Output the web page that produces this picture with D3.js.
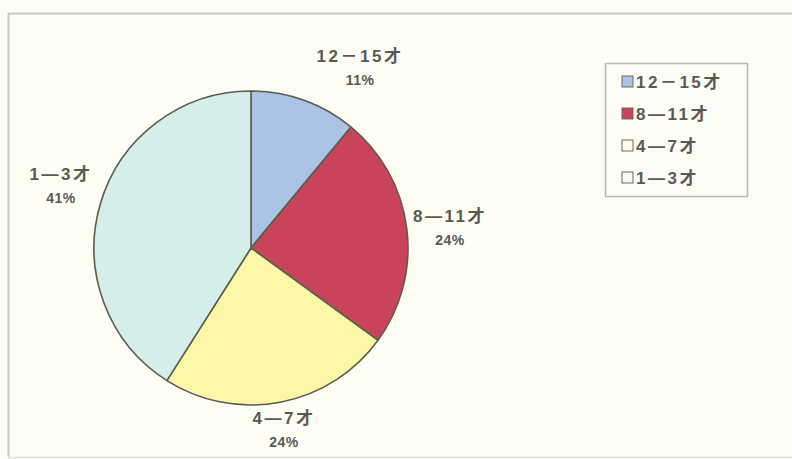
<!DOCTYPE html>
<html>
<head>
<meta charset="utf-8">
<script src="https://cdn.jsdelivr.net/npm/d3@7"></script>
<style>
  html, body { margin: 0; padding: 0; background: #fdfdf4; }
  svg { display: block; }
  text { font-family: "Liberation Sans", "Noto Sans CJK SC", sans-serif; font-weight: bold; fill: #5a5a55; }
</style>
</head>
<body>
<svg id="chart" width="792" height="459"></svg>
<script>
// Age groups and their share of the total (%)
const categories = ["12－15才", "8—11才", "4—7才", "1—3才"];
const legendLabels = ["12－15才", "8—11才", "4—7才", "1—3才"];
const values = [11, 24, 24, 41];
const colors = ["#abc3e4", "#c9435b", "#fbf7a6", "#d6eeea"];
const legendColors = ["#abc3e4", "#c9435b", "#fdfbe6", "#f4faf6"];

const svg = d3.select("#chart");
const W = 792, H = 459;

// outer frame
svg.append("rect").attr("x", 0).attr("y", 0).attr("width", W).attr("height", H).attr("fill", "#fdfdf4");
svg.append("path")
  .attr("d", `M8.5,${H - 2} L8.5,13.5 L${W},13.5`)
  .attr("fill", "none").attr("stroke", "#c9c9c2").attr("stroke-width", 2);
svg.append("line").attr("x1", 8).attr("x2", W).attr("y1", H - 1.5).attr("y2", H - 1.5)
  .attr("stroke", "#e2e2da").attr("stroke-width", 1.5);

const cx = 251, cy = 248, r = 157;
const pie = d3.pie().sort(null).value(d => d)(values);
const arc = d3.arc().innerRadius(0).outerRadius(r);

const g = svg.append("g").attr("transform", `translate(${cx},${cy})`);
g.selectAll("path").data(pie).join("path")
  .attr("d", arc)
  .attr("fill", (d, i) => colors[i])
  .attr("stroke", "#5d5d4c")
  .attr("stroke-width", 1.6)
  .attr("stroke-linejoin", "round");

// slice labels: each placed just outside the rim of its slice (offsets from the pie centre)
const labelOffsets = [[109, -193], [199, -33], [33, 169], [-190, -75]];
pie.forEach((d, i) => {
  const x = cx + labelOffsets[i][0];
  const y = cy + labelOffsets[i][1];
  const t = svg.append("text").attr("text-anchor", "middle").attr("font-size", 17)
    .attr("letter-spacing", 2.5);
  t.append("tspan").attr("x", x).attr("y", y + 7).text(categories[i]);
  t.append("tspan").attr("x", x).attr("y", y + 30).attr("font-size", 14)
    .attr("letter-spacing", 0.5).text(values[i] + "%");
});

// legend
const lg = svg.append("g").attr("transform", "translate(605,63)");
lg.append("rect").attr("x", 0.5).attr("y", 0.5).attr("width", 142).attr("height", 133)
  .attr("fill", "#fdfdf6").attr("stroke", "#b8b8b0").attr("stroke-width", 1.5);
const ly = d3.scalePoint().domain(legendLabels).range([19, 115]);
legendLabels.forEach((lab, i) => {
  lg.append("rect").attr("x", 17).attr("y", ly(lab) - 6).attr("width", 11).attr("height", 11)
    .attr("fill", legendColors[i]).attr("stroke", "#6a6a60").attr("stroke-width", 1);
  lg.append("text").attr("x", 31).attr("y", ly(lab) + 6).attr("font-size", 17)
    .attr("letter-spacing", 2.5).text(lab);
});
</script>
</body>
</html>
